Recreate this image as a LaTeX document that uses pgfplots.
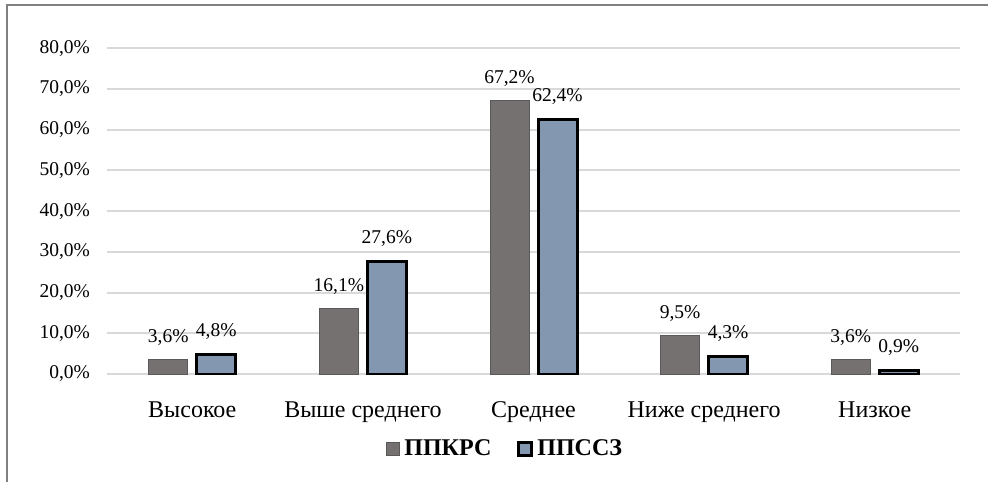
\documentclass[border=0pt]{standalone}
\usepackage{pgfplots}
\pgfplotsset{compat=1.18}
\usepackage{fontspec}
\setmainfont{Liberation Serif}
\definecolor{cgray}{HTML}{767171}
\definecolor{cgrayedge}{HTML}{595959}
\definecolor{cblue}{HTML}{8497B0}
\definecolor{cgrid}{HTML}{D9D9D9}
\definecolor{cframe}{HTML}{808080}
\begin{document}
\begin{tikzpicture}
\useasboundingbox (0,0) rectangle (494pt,-241pt);
\draw[cframe, line width=1pt] (3.6pt,-241pt) -- (3.6pt,-2.6pt) -- (494pt,-2.6pt);
\begin{axis}[
  at={(53.5pt,-187pt)}, anchor=south west,
  scale only axis, width=426.5pt, height=163pt,
  xmin=-0.5, xmax=4.5, ymin=0, ymax=80,
  ybar=4.5pt, bar width=19.5pt,
  /pgf/number format/assume math mode=true,
  axis line style={draw=none},
  tick style={draw=none},
  ymajorgrids, major grid style={cgrid, line width=1pt},
  ytick={0,10,...,80},
  yticklabel={\pgfmathprintnumber[fixed,fixed zerofill,precision=1,use comma]{\tick}\%},
  yticklabel style={font=\fontsize{9.75}{11}\selectfont, xshift=-5pt},
  xtick={0,1,2,3,4},
  xticklabels={Высокое, Выше среднего, Среднее, Ниже среднего, Низкое},
  xticklabel style={font=\fontsize{12}{14}\selectfont, yshift=-6pt},
  nodes near coords={\pgfmathprintnumber[fixed,fixed zerofill,precision=1,use comma]{\pgfplotspointmeta}\%},
  every node near coord/.append style={font=\fontsize{9.75}{11}\selectfont, black, yshift=3.5pt},
  legend style={at={(0.468,-0.23)}, anchor=center, draw=none, legend columns=2,
    font=\bfseries\fontsize{12}{14}\selectfont,
    /tikz/every even column/.append style={column sep=11pt}},
  legend image code/.code={\draw[#1] (0pt,-3.2pt) rectangle (6.5pt,3.3pt);},
]
\addplot[fill=cgray, draw=cgrayedge, line width=0.5pt] coordinates {(0,3.6) (1,16.1) (2,67.2) (3,9.5) (4,3.6)};
\addplot[fill=cblue, draw=black, line width=1.5pt] coordinates {(0,4.8) (1,27.6) (2,62.4) (3,4.3) (4,0.9)};
\legend{ППКРС, ППССЗ}
\end{axis}
\end{tikzpicture}
\end{document}
